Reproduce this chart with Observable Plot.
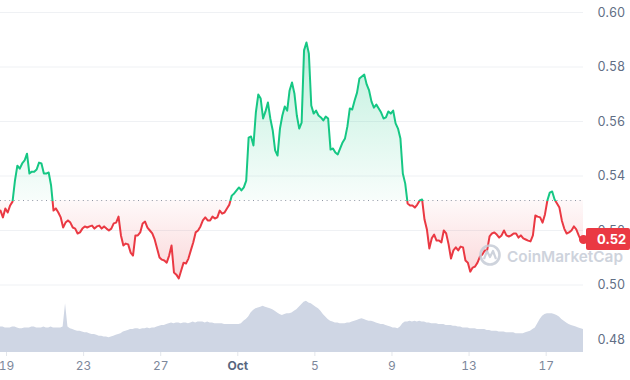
<!DOCTYPE html>
<html>
<head>
<meta charset="utf-8">
<script src="https://cdn.jsdelivr.net/npm/d3@7"></script>
<script src="https://cdn.jsdelivr.net/npm/@observablehq/plot@0.6"></script>
<style>
  body { margin: 0; background: #fff; font-family: Inter, "Noto Sans", sans-serif; }
  #chart { position: relative; width: 630px; height: 380px; overflow: hidden; background: #fff; }
  #chart svg { position: absolute; left: 0; top: 0; }
  #edge { position: absolute; left: 622px; top: 0; width: 1px; height: 347px; background: #f2f3f6; }
</style>
</head>
<body>
<div id="chart"><div id="edge"></div></div>
<script>
// ---- data ----
const startTime = new Date(2023, 8, 18, 16, 30);   // first sample
const stepHours = 3;                                // sample spacing
const baselinePrice = 0.531;                        // opening price of the period (dotted line)
const prices = [
  0.5273, 0.5248, 0.5281, 0.5266, 0.5292, 0.5306, 0.5383, 0.5438, 0.5427, 0.5446,
  0.5457, 0.5482, 0.5409, 0.5416, 0.5416, 0.5424, 0.5449, 0.5446, 0.5409, 0.5409,
  0.5413, 0.5365, 0.5273, 0.5281, 0.5266, 0.5248, 0.5211, 0.5229, 0.5237, 0.5229,
  0.5211, 0.5207, 0.5189, 0.5193, 0.5207, 0.5215, 0.5211, 0.5215, 0.5218, 0.5207,
  0.5215, 0.5218, 0.5207, 0.5215, 0.5207, 0.5200, 0.5207, 0.5226, 0.5229, 0.5251,
  0.5182, 0.5145, 0.5152, 0.5149, 0.5119, 0.5108, 0.5182, 0.5182, 0.5193, 0.5226,
  0.5233, 0.5211, 0.5200, 0.5189, 0.5167, 0.5134, 0.5101, 0.5093, 0.5090, 0.5082,
  0.5108, 0.5145, 0.5046, 0.5038, 0.5024, 0.5053, 0.5082, 0.5079, 0.5097, 0.5127,
  0.5156, 0.5193, 0.5200, 0.5215, 0.5237, 0.5248, 0.5237, 0.5237, 0.5251, 0.5244,
  0.5248, 0.5273, 0.5262, 0.5266, 0.5281, 0.5295, 0.5328, 0.5336, 0.5347, 0.5358,
  0.5347, 0.5358, 0.5383, 0.5541, 0.5545, 0.5512, 0.5633, 0.5699, 0.5684, 0.5611,
  0.5637, 0.5670, 0.5611, 0.5567, 0.5494, 0.5475, 0.5574, 0.5622, 0.5655, 0.5640,
  0.5714, 0.5743, 0.5703, 0.5622, 0.5574, 0.5596, 0.5861, 0.5890, 0.5849, 0.5659,
  0.5629, 0.5640, 0.5622, 0.5615, 0.5604, 0.5618, 0.5611, 0.5497, 0.5501, 0.5486,
  0.5479, 0.5501, 0.5523, 0.5538, 0.5582, 0.5648, 0.5644, 0.5677, 0.5706, 0.5758,
  0.5765, 0.5772, 0.5736, 0.5714, 0.5673, 0.5651, 0.5662, 0.5648, 0.5633, 0.5611,
  0.5615, 0.5637, 0.5629, 0.5640, 0.5593, 0.5574, 0.5538, 0.5409, 0.5372, 0.5299,
  0.5292, 0.5292, 0.5284, 0.5295, 0.5310, 0.5314, 0.5240, 0.5204, 0.5134, 0.5171,
  0.5185, 0.5163, 0.5163, 0.5156, 0.5200, 0.5189, 0.5149, 0.5097, 0.5127, 0.5138,
  0.5127, 0.5141, 0.5138, 0.5090, 0.5082, 0.5049, 0.5064, 0.5068, 0.5082, 0.5104,
  0.5112, 0.5127, 0.5127, 0.5178, 0.5189, 0.5193, 0.5185, 0.5174, 0.5182, 0.5200,
  0.5182, 0.5178, 0.5182, 0.5189, 0.5189, 0.5174, 0.5182, 0.5171, 0.5167, 0.5163,
  0.5160, 0.5182, 0.5255, 0.5251, 0.5248, 0.5229, 0.5259, 0.5310, 0.5339, 0.5343,
  0.5314, 0.5299, 0.5284, 0.5237, 0.5207, 0.5189, 0.5193, 0.5200, 0.5215, 0.5204,
  0.5182, 0.5163, 0.5167
];
// trading volume, millions USD, same timestamps
const volumes = [
  1020, 1020, 980, 980, 980, 1020, 1020, 980, 950, 950,
  980, 980, 980, 1020, 1020, 980, 980, 980, 1020, 980,
  980, 1020, 980, 980, 980, 980, 1020, 1950, 1020, 950,
  920, 880, 850, 850, 820, 790, 790, 750, 720, 720,
  690, 650, 650, 620, 620, 590, 620, 650, 690, 720,
  750, 820, 850, 880, 920, 920, 950, 950, 920, 950,
  950, 980, 950, 980, 980, 1020, 1050, 1080, 1080, 1120,
  1150, 1180, 1150, 1180, 1180, 1150, 1180, 1180, 1150, 1180,
  1220, 1180, 1220, 1220, 1220, 1180, 1220, 1180, 1180, 1150,
  1150, 1150, 1150, 1120, 1120, 1120, 1120, 1120, 1120, 1120,
  1150, 1250, 1320, 1420, 1580, 1680, 1750, 1780, 1810, 1850,
  1810, 1780, 1750, 1710, 1650, 1580, 1520, 1480, 1520, 1550,
  1550, 1580, 1650, 1710, 1810, 1910, 2010, 2050, 1980, 1950,
  1880, 1810, 1750, 1650, 1520, 1420, 1320, 1250, 1220, 1180,
  1180, 1150, 1150, 1150, 1180, 1180, 1220, 1250, 1280, 1320,
  1350, 1320, 1280, 1250, 1250, 1220, 1180, 1150, 1120, 1120,
  1080, 1050, 1020, 980, 980, 950, 1020, 1150, 1220, 1220,
  1250, 1220, 1250, 1220, 1250, 1220, 1220, 1180, 1180, 1150,
  1150, 1150, 1120, 1120, 1120, 1080, 1080, 1080, 1050, 1050,
  1020, 1020, 980, 980, 980, 950, 950, 950, 920, 920,
  920, 920, 880, 880, 850, 850, 850, 820, 820, 820,
  790, 790, 790, 790, 750, 750, 750, 750, 790, 820,
  850, 920, 980, 1150, 1320, 1450, 1520, 1550, 1550, 1550,
  1520, 1480, 1420, 1320, 1250, 1180, 1120, 1080, 1050, 1020,
  980, 950, 920
];
const priceTicks = [0.48, 0.50, 0.52, 0.54, 0.56, 0.58, 0.60];
const dateTicks = [
  new Date(2023, 8, 19), new Date(2023, 8, 23), new Date(2023, 8, 27), new Date(2023, 9, 1),
  new Date(2023, 9, 5), new Date(2023, 9, 9), new Date(2023, 9, 13), new Date(2023, 9, 17)
];
const dateTickLabels = ["19", "23", "27", "Oct", "5", "9", "13", "17"];
const lastPriceLabel = "0.52";
const watermark = "CoinMarketCap";

// ---- styling ----
const UP = "#16c784", DOWN = "#ea3943", VOL = "#cfd6e4";
const W = 630, H = 380, MR = 47;

const data = prices.map((p, i) => ({
  date: new Date(+startTime + i * stepHours * 3600e3),
  price: p,
  volume: volumes[i]
}));
const xDomain = [data[0].date, data[data.length - 1].date];
const labelOf = new Map(dateTicks.map((d, i) => [+d, dateTickLabels[i]]));
const chart = document.getElementById("chart");

// ---- price chart ----
const main = Plot.plot({
  width: W, height: H,
  marginLeft: 0, marginRight: MR, marginTop: 12, marginBottom: 41,
  style: { fontFamily: "Inter, sans-serif", fontSize: "12px", background: "#fff", overflow: "visible" },
  x: { type: "time", domain: xDomain, axis: null },
  y: { domain: [0.48, 0.60], axis: null },
  marks: [
    Plot.gridY(priceTicks, { stroke: "#eff1f4", strokeOpacity: 1 }),
    Plot.axisY(priceTicks, {
      anchor: "right", tickSize: 0, tickPadding: 14, label: null,
      tickFormat: d => d.toFixed(2), fill: "#616e85", fontSize: 12.5
    }),
    Plot.areaY(data, { x: "date", y1: () => baselinePrice, y2: "price", fill: "url(#areaGrad)" }),
    Plot.ruleY([baselinePrice], { stroke: "#8e96a3", strokeDasharray: "1,3.6", strokeWidth: 1 }),
    Plot.line(data, { x: "date", y: "price", stroke: "url(#lineGrad)", strokeWidth: 2, strokeLinejoin: "round" }),
    Plot.dot([data[data.length - 1]], { x: "date", y: "price", r: 4.5, fill: DOWN, stroke: "none" })
  ]
});
chart.appendChild(main);

// gradients split at the baseline
const yS = main.scale("y");
const yTop = yS.apply(d3.max(prices)), yBot = yS.apply(d3.min(prices)), yBase = yS.apply(baselinePrice);
const off = (yBase - yTop) / (yBot - yTop);
const defs = d3.select(main).insert("defs", ":first-child");
const lg = defs.append("linearGradient").attr("id", "lineGrad").attr("gradientUnits", "userSpaceOnUse")
  .attr("x1", 0).attr("x2", 0).attr("y1", yTop).attr("y2", yBot);
lg.append("stop").attr("offset", off).attr("stop-color", UP);
lg.append("stop").attr("offset", off).attr("stop-color", DOWN);
const ag = defs.append("linearGradient").attr("id", "areaGrad").attr("gradientUnits", "userSpaceOnUse")
  .attr("x1", 0).attr("x2", 0).attr("y1", yTop).attr("y2", yBot);
ag.append("stop").attr("offset", 0).attr("stop-color", UP).attr("stop-opacity", 0.28);
ag.append("stop").attr("offset", off).attr("stop-color", UP).attr("stop-opacity", 0.03);
ag.append("stop").attr("offset", off).attr("stop-color", DOWN).attr("stop-opacity", 0.03);
ag.append("stop").attr("offset", 1).attr("stop-color", DOWN).attr("stop-opacity", 0.2);

// last-price tag
const xEnd = main.scale("x").range[1];
const yEnd = yS.apply(prices[prices.length - 1]);
const tag = d3.select(main).append("g");
tag.append("rect").attr("x", xEnd + 3).attr("y", yEnd - 11).attr("width", W - xEnd - 3).attr("height", 22)
  .attr("rx", 2).attr("fill", DOWN);
tag.append("text").attr("x", xEnd + 14).attr("y", yEnd).attr("dy", "0.36em").attr("text-anchor", "start")
  .attr("fill", "#fff").attr("font-weight", 700).attr("font-size", 13).text(lastPriceLabel);

// ---- volume chart (overlaid, same x) ----
const vol = Plot.plot({
  width: W, height: H,
  marginLeft: 0, marginRight: MR, marginTop: 252, marginBottom: 28,
  style: { fontFamily: "Inter, sans-serif", fontSize: "12px", background: "transparent", overflow: "visible" },
  x: { type: "time", domain: xDomain, axis: null },
  y: { domain: [0, 4000], axis: null },
  marks: [
    Plot.areaY(data, { x: "date", y: "volume", fill: VOL }),
    Plot.axisX(dateTicks, {
      anchor: "bottom", tickSize: 4, tickPadding: 5, label: null,
      tickFormat: d => labelOf.get(+d),
      stroke: "#e3e6eb", fill: "#7d889b", fontSize: 12
    })
  ]
});
chart.appendChild(vol);
d3.select(vol).selectAll("text").filter(function () { return this.textContent === "Oct"; })
  .attr("font-weight", 700).attr("fill", "#58667e");

// ---- watermark ----
const wm = d3.select(chart).append("svg").attr("width", W).attr("height", H)
  .style("pointer-events", "none").style("opacity", 0.85);
wm.append("circle").attr("cx", 490).attr("cy", 255).attr("r", 9.5)
  .attr("fill", "none").attr("stroke", "#c6ccd7").attr("stroke-width", 2.6);
wm.append("path").attr("d", "M484,259 L487,251 L490,257 L493,251 L496,259")
  .attr("fill", "none").attr("stroke", "#c6ccd7").attr("stroke-width", 2.2).attr("stroke-linejoin", "round");
wm.append("text").attr("x", 507).attr("y", 262).attr("font-family", "Inter, sans-serif")
  .attr("font-size", 15).attr("font-weight", 600).attr("fill", "#c6ccd7")
  .attr("textLength", 116).attr("lengthAdjust", "spacingAndGlyphs").text(watermark);
</script>
</body>
</html>
